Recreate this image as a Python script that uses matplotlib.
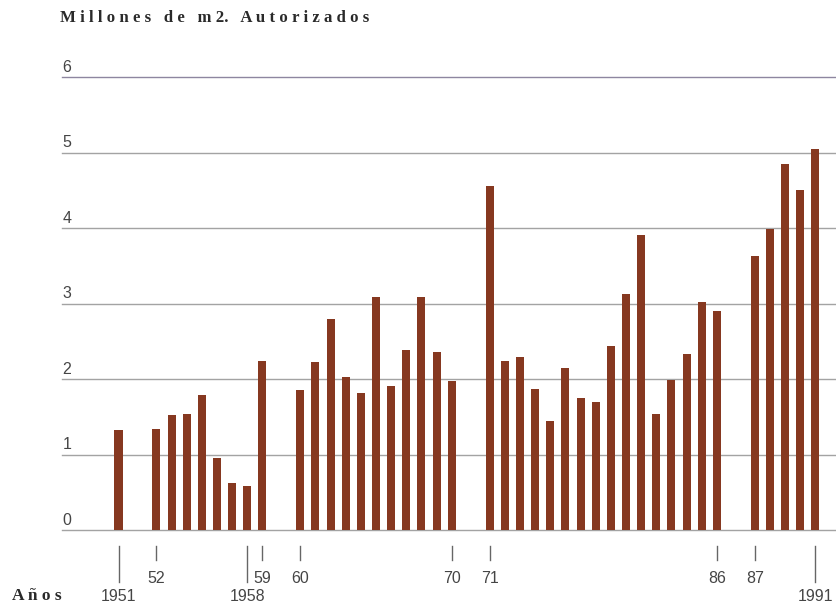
import matplotlib
matplotlib.use("Agg")
import matplotlib.pyplot as plt
import matplotlib.transforms as mtransforms

# Superficie autorizada, millones de m2 por año
years = list(range(1951, 1992))
values = [1.32,
          1.34, 1.52, 1.54, 1.79, 0.96, 0.62, 0.58, 2.24,
          1.86, 2.23, 2.79, 2.02, 1.82, 3.08, 1.91, 2.38, 3.08, 2.36, 1.97,
          4.55, 2.24, 2.29, 1.87, 1.44, 2.15, 1.75, 1.70, 2.44, 3.12, 3.91,
          1.53, 1.99, 2.33, 3.02, 2.90,
          3.63, 3.99, 4.85, 4.50, 5.05]
# años en que cambia la serie (se deja un hueco antes)
series_breaks = [1952, 1960, 1971, 1987]
short_ticks = [1952, 1959, 1960, 1970, 1971, 1986, 1987]
short_labels = ["52", "59", "60", "70", "71", "86", "87"]
long_ticks = [1951, 1958, 1991]
long_labels = ["1951", "1958", "1991"]
y_levels = [0, 1, 2, 3, 4, 5, 6]

BAR_COLOR = "#863820"
GRID_COLOR = "#a3a3a3"
TEXT_COLOR = "#454545"
SANS = "Liberation Sans"
SERIF = "Liberation Serif"


def xpos(year):
    gaps = sum(1 for b in series_breaks if year >= b)
    return (year - years[0]) + 1.5 * gaps


fig = plt.figure(figsize=(8.37, 6.08), dpi=100)
ax = fig.add_axes([62 / 837, 78 / 608, 775 / 837, 453 / 608])

xs = [xpos(y) for y in years]
ax.bar(xs, values, width=0.53, color=BAR_COLOR, zorder=3)

ax.set_xlim(-3.73, 47.43)
ax.set_ylim(0, 6)
for s in ax.spines.values():
    s.set_visible(False)
ax.set_xticks([])
ax.set_yticks([])

# líneas horizontales con su rótulo encima, a la izquierda
ytrans = mtransforms.blended_transform_factory(ax.transAxes, ax.transData)
for v in y_levels:
    col = "#8e86a0" if v == 6 else GRID_COLOR
    ax.plot([0, 1], [v, v], transform=ytrans, color=col, lw=1.0,
            zorder=1, clip_on=False)
    ax.annotate(str(v), xy=(0, v), xycoords=ytrans, xytext=(0.5, 1.5),
                textcoords="offset points", ha="left", va="bottom",
                fontsize=11.5, family=SANS, color=TEXT_COLOR)

# marcas de años bajo el eje
xtrans = ax.get_xaxis_transform()
for yr, lab in zip(short_ticks, short_labels):
    x = xpos(yr)
    ax.plot([x, x], [-0.036, -0.067], transform=xtrans, color="#666666",
            lw=1.0, clip_on=False)
    ax.text(x, -0.108, lab, transform=xtrans, ha="center", va="center",
            fontsize=11.5, family=SANS, color=TEXT_COLOR)
for yr, lab in zip(long_ticks, long_labels):
    x = xpos(yr)
    ax.plot([x, x], [-0.036, -0.115], transform=xtrans, color="#666666",
            lw=1.0, clip_on=False)
    ax.text(x, -0.146, lab, transform=xtrans, ha="center", va="center",
            fontsize=11.5, family=SANS, color=TEXT_COLOR)

fig.text(60 / 837, 1 - 18 / 608,
         "M i l l o n e s   d e   m 2.   A u t o r i z a d o s",
         ha="left", va="center", fontsize=12.1, family=SERIF,
         fontweight="bold", color="#2a2a2a")
fig.text(12 / 837, 1 - 596 / 608, "A ñ o s", ha="left", va="center",
         fontsize=12.5, family=SERIF, fontweight="bold", color="#2a2a2a")

fig.savefig("out.png", dpi=100, facecolor="white")
